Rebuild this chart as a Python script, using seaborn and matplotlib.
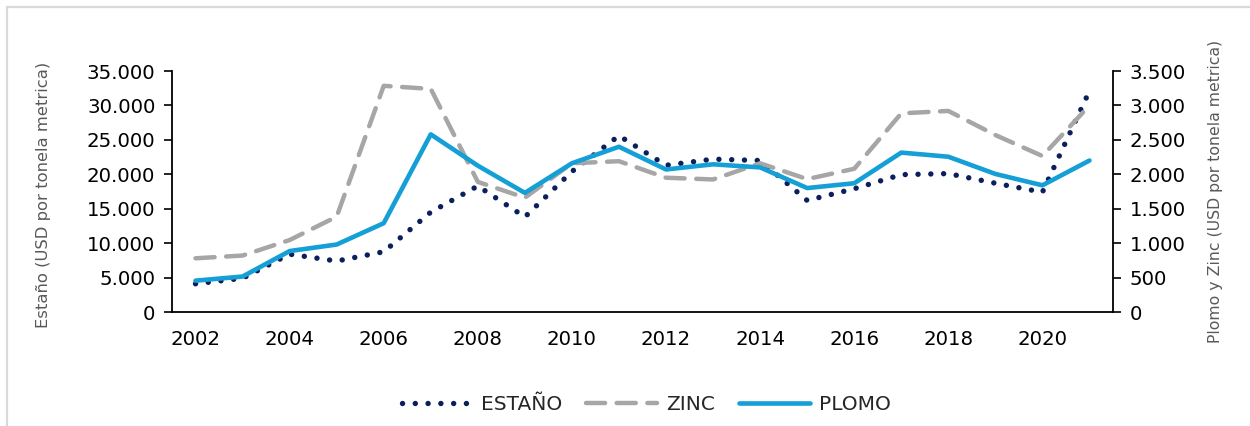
import numpy as np
import pandas as pd
import matplotlib
matplotlib.use("Agg")
import matplotlib.pyplot as plt
import seaborn as sns
from matplotlib.lines import Line2D
from matplotlib.patches import Rectangle

years = list(range(2002, 2022))
estano = [4100, 4900, 8400, 7400, 8750, 14500, 18300, 13800, 20400, 25600,
          21300, 22200, 22000, 16200, 17900, 19950, 20100, 18700, 17400, 32100]
zinc = [780, 820, 1045, 1385, 3285, 3240, 1890, 1660, 2160, 2190,
        1950, 1925, 2160, 1930, 2080, 2885, 2920, 2570, 2265, 3000]
plomo = [455, 515, 885, 980, 1290, 2580, 2125, 1730, 2160, 2400,
         2070, 2145, 2100, 1800, 1870, 2315, 2255, 2005, 1840, 2200]
left_ticks = [0, 5000, 10000, 15000, 20000, 25000, 30000, 35000]
right_ticks = [0, 500, 1000, 1500, 2000, 2500, 3000, 3500]
xtick_years = list(range(2002, 2021, 2))

df = pd.DataFrame({"year": years, "ESTAÑO": estano, "ZINC": zinc, "PLOMO": plomo})

sns.set_theme(style="white")
plt.rcParams['font.family'] = ['DejaVu Sans']

c_tin = "#0A1F5C"
c_zinc = "#A6A6A6"
c_lead = "#149FD6"

fig = plt.figure(figsize=(12.5, 4.26), dpi=100)
ax = fig.add_axes([172/1250, 1-312/426, (1113-172)/1250, (312-71)/426])
ax2 = ax.twinx()

tin_lw, zinc_lw, lead_lw = 3.9, 3.2, 3.3
tin_ls = (0, (0.01, 2.35))
zinc_ls = (0, (4.3, 2.6))
sns.lineplot(data=df, x="year", y="ESTAÑO", ax=ax, color=c_tin, lw=tin_lw,
             linestyle=tin_ls, dash_capstyle="round", zorder=3)
sns.lineplot(data=df, x="year", y="ZINC", ax=ax2, color=c_zinc, lw=zinc_lw,
             linestyle=zinc_ls, dash_capstyle="round", zorder=2)
sns.lineplot(data=df, x="year", y="PLOMO", ax=ax2, color=c_lead, lw=lead_lw,
             solid_capstyle="round", zorder=4)

for a in (ax, ax2):
    a.set_xlim(2001.5, 2021.5)
    a.set_xlabel("")
ax.set_ylim(0, 35000)
ax2.set_ylim(0, 3500)
ax.set_yticks(left_ticks)
ax.set_yticklabels([f"{v:,}".replace(",", ".") for v in left_ticks])
ax2.set_yticks(right_ticks)
ax2.set_yticklabels([f"{v:,}".replace(",", ".") for v in right_ticks])
ax.set_xticks(xtick_years)
ax.set_xticklabels([str(y) for y in xtick_years])

for a in (ax, ax2):
    for s in a.spines.values():
        s.set_visible(False)
    a.grid(False)
ax.spines["left"].set_visible(True)
ax.spines["bottom"].set_visible(True)
ax2.spines["right"].set_visible(True)
for s in (ax.spines["left"], ax.spines["bottom"], ax2.spines["right"]):
    s.set_color("#000000")
    s.set_linewidth(1.3)

ax.tick_params(axis="y", direction="out", length=6, width=1.2, color="black",
               labelsize=14.2, labelcolor="#000000", pad=6, left=True)
ax.tick_params(axis="x", length=0, labelsize=14.2, labelcolor="#000000", pad=13)
ax2.tick_params(axis="y", direction="out", length=6, width=1.2, color="black",
                labelsize=14.2, labelcolor="#000000", pad=6, right=True)

ax.set_ylabel("Estaño (USD por tonela metrica)", fontsize=11.8, color="#595959")
ax2.set_ylabel("Plomo y Zinc (USD por tonela metrica)", fontsize=11.3, color="#595959", labelpad=16)
ax.yaxis.set_label_coords(-0.129, 0.485)
ax.patch.set_visible(False)

handles = [
    Line2D([], [], color=c_tin, lw=tin_lw, linestyle=tin_ls, dash_capstyle="round"),
    Line2D([], [], color=c_zinc, lw=zinc_lw, linestyle=zinc_ls, dash_capstyle="round"),
    Line2D([], [], color=c_lead, lw=lead_lw, solid_capstyle="round"),
]
fig.legend(handles, ["ESTAÑO", "ZINC", "PLOMO"], loc="center", bbox_to_anchor=(646/1250, 1-405/426),
           ncol=3, frameon=False, fontsize=14.5, handlelength=3.5, columnspacing=1.2, handletextpad=0.45)

fig.patches.append(Rectangle((6.5/1250, -0.05), 1.2, 1 - 6.5/426 + 0.05, transform=fig.transFigure,
                             fill=False, edgecolor="#D9D9D9", lw=1.6, zorder=0))

fig.savefig("out.png", dpi=100)
